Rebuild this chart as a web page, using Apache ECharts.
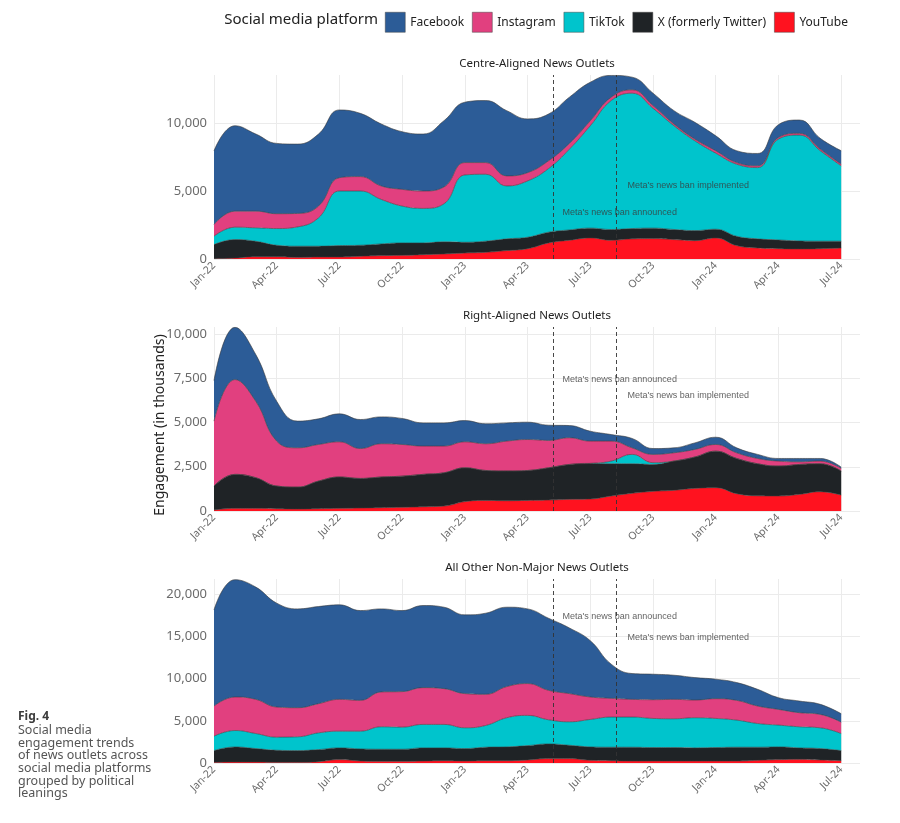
<!DOCTYPE html>
<html lang="en">
<head>
  <meta charset="UTF-8">
  <title>Social media engagement trends</title>
  <script src="https://cdn.jsdelivr.net/npm/echarts@6/dist/echarts.min.js"></script>
  <style>
    html, body { margin: 0; padding: 0; background: #fff; }
  </style>
</head>
<body>
<div id="main" style="width: 900px;height:823px;"></div>
<script type="text/javascript">

  // month labels, Jan-22 .. Jul-24 (index = month number)
  const months = ['Jan-22','Feb-22','Mar-22','Apr-22','May-22','Jun-22','Jul-22','Aug-22','Sep-22','Oct-22','Nov-22','Dec-22',
                  'Jan-23','Feb-23','Mar-23','Apr-23','May-23','Jun-23','Jul-23','Aug-23','Sep-23','Oct-23','Nov-23','Dec-23',
                  'Jan-24','Feb-24','Mar-24','Apr-24','May-24','Jun-24','Jul-24'];

  const platforms = ['Facebook', 'Instagram', 'TikTok', 'X (formerly Twitter)', 'YouTube'];
  const platformColors = ['#2c5c97', '#e1407f', '#00c4cc', '#1f2326', '#ff121f'];

  const panelTitles = ['Centre-Aligned News Outlets', 'Right-Aligned News Outlets', 'All Other Non-Major News Outlets'];

  // Centre-aligned outlets (thousands)
  const centreYouTube   = [20,70,170,170,120,150,150,200,250,270,320,370,440,490,620,760,1180,1380,1550,1380,1480,1500,1430,1350,1550,985,810,760,740,760,810];
  const centreX         = [1040,1360,1130,840,820,790,835,810,860,910,860,890,790,820,860,840,790,760,720,790,760,770,740,740,640,685,670,640,590,550,500];
  const centreTikTok    = [615,910,990,1230,1420,2090,4015,3990,3270,2710,2540,2800,4950,4920,3890,4140,4680,5940,7530,9480,9950,8810,7630,6600,5590,5300,5240,7420,7780,6650,5540];
  const centreInstagram = [865,1180,1230,1090,990,860,980,1060,990,1230,1280,1240,910,860,740,610,570,420,370,250,250,200,130,130,180,120,130,120,130,120,120];
  const centreFacebook  = [5415,6280,5670,5170,5100,5300,4980,4650,4560,4240,4190,4870,4440,4560,4800,3950,3440,3400,2830,1600,930,910,980,1230,1100,870,910,940,980,790,990];

  // Right-aligned outlets
  const rightYouTube   = [55,150,150,130,110,130,150,170,190,210,240,280,530,600,580,600,620,660,680,850,1000,1110,1170,1280,1320,980,860,850,940,1090,900];
  const rightX         = [1355,1920,1730,1280,1240,1560,1770,1670,1730,1760,1830,1880,1910,1690,1680,1690,1820,1970,2010,1820,1670,1520,1650,1770,2060,1990,1810,1690,1690,1580,1360];
  const rightTikTok    = [0,0,0,0,0,0,0,0,0,0,0,0,0,0,0,0,0,0,0,150,530,100,0,0,0,0,0,0,0,0,0];
  const rightInstagram = [3670,5360,4320,2540,2220,2070,1990,1690,1880,1790,1600,1510,1470,1510,1690,1750,1550,1510,1260,1130,370,470,470,430,380,320,300,280,150,150,150];
  const rightFacebook  = [2290,2950,2640,2250,1510,1450,1580,1640,1520,1470,1310,1310,1200,1130,1030,980,860,690,560,370,530,330,280,370,410,280,230,150,190,150,70];

  // All other non-major outlets
  const otherYouTube   = [80,120,120,80,80,160,400,240,200,200,240,280,240,280,280,360,520,520,320,280,240,240,240,240,240,240,320,400,440,360,280];
  const otherX         = [1390,1780,1590,1430,1390,1430,1390,1430,1430,1430,1550,1510,1470,1590,1630,1700,1740,1580,1590,1590,1630,1590,1590,1550,1590,1630,1550,1510,1350,1350,1190];
  const otherTikTok    = [1710,1950,1780,1550,1630,1980,1980,2100,2660,2620,2780,2780,2460,2580,3450,3580,2860,2780,3250,3570,3570,3450,3410,3570,3450,3210,2810,2580,2500,2460,2020];
  const otherInstagram = [3570,3970,4050,3570,3450,3460,3770,3650,4130,4210,4360,4240,4050,3690,3690,3770,3490,3340,2660,2220,2100,2220,2300,2100,2340,2340,2070,1860,1670,1590,1350];
  const otherFacebook  = [11390,13900,13300,12310,11710,11510,11200,10640,9840,9600,9730,9650,9330,9610,9410,8850,8540,7780,6670,4050,3060,3020,2860,2660,2310,2110,1980,1390,1380,1190,1000];

  // events: month position (fractional) of the dashed lines
  const eventNames = ["Meta's news ban announced", "Meta's news ban implemented"];
  const eventMonths = [16.22, 19.25];
  // where the annotation text sits in each panel [x month, y value]
  const annotAnnounced   = [[16.65, 3450], [16.65, 7450], [16.65, 17400]];
  const annotImplemented = [[19.76, 5440], [19.76, 6500], [19.76, 14900]];

  const yMax = [13530, 10400, 21800];
  const yStep = [5000, 2500, 5000];

  const panels = [
    [centreFacebook, centreInstagram, centreTikTok, centreX, centreYouTube],
    [rightFacebook, rightInstagram, rightTikTok, rightX, rightYouTube],
    [otherFacebook, otherInstagram, otherTikTok, otherX, otherYouTube]
  ];

  const gridTops = [75, 327, 579];
  const gridColor = '#ebebeb';
  const fontFam = 'Noto Sans';

  var myChart = echarts.init(document.getElementById('main'));

  const grids = [], xAxes = [], yAxes = [], series = [], graphics = [];

  // x ticks 0..30 step 3 plus the appended max -> last split line hidden
  const xSplitColors = [];
  for (let i = 0; i <= 10; i++) xSplitColors.push(gridColor);
  xSplitColors.push('rgba(0,0,0,0)');

  panels.forEach(function (panel, p) {
    grids.push({left: 214, right: 40, top: gridTops[p], height: 184});

    xAxes.push({
      type: 'value', gridIndex: p, min: 0, max: 30.9, interval: 3,
      axisLine: {show: false}, axisTick: {show: false},
      splitLine: {show: true, lineStyle: {color: xSplitColors, width: 1}},
      axisLabel: {
        rotate: 45, margin: 5, fontSize: 10.5, color: '#6b6b6b', fontFamily: fontFam,
        showMaxLabel: false,
        formatter: function (v) { return (v % 3 === 0 && v <= 30) ? months[v] : ''; }
      }
    });

    const nTicks = Math.floor(yMax[p] / yStep[p]) + 1;
    const ySplitColors = [];
    for (let i = 0; i < nTicks; i++) ySplitColors.push(gridColor);
    ySplitColors.push('rgba(0,0,0,0)');

    yAxes.push({
      type: 'value', gridIndex: p, min: 0, max: yMax[p], interval: yStep[p],
      axisLine: {show: false}, axisTick: {show: false},
      splitLine: {show: true, lineStyle: {color: ySplitColors, width: 1}},
      axisLabel: {
        margin: 7, fontSize: 13, color: '#6b6b6b', fontFamily: fontFam, showMaxLabel: false,
        formatter: function (v) { return v.toLocaleString('en-US'); }
      }
    });

    // stacked areas, bottom layer first; value kept in dimension 0 so it is the stacked one
    for (let k = platforms.length - 1; k >= 0; k--) {
      series.push({
        name: platforms[k],
        type: 'line',
        xAxisIndex: p, yAxisIndex: p,
        stack: 'panel' + p,
        stackStrategy: 'all',
        smooth: 0.45,
        showSymbol: false,
        symbol: 'none',
        encode: {x: 1, y: 0},
        data: panel[k].map(function (v, i) { return [v, i]; }),
        itemStyle: {color: platformColors[k]},
        lineStyle: {color: '#3b3b3b', width: 0.6},
        areaStyle: {color: platformColors[k], opacity: 1},
        emphasis: {disabled: true},
        z: 2
      });
    }

    // annotations + dashed event lines
    series.push({
      type: 'scatter',
      xAxisIndex: p, yAxisIndex: p,
      symbolSize: 1,
      itemStyle: {color: 'rgba(0,0,0,0)'},
      silent: true,
      data: [
        {name: eventNames[0], value: annotAnnounced[p]},
        {name: eventNames[1], value: annotImplemented[p]}
      ],
      label: {
        show: true, position: 'right', distance: 0,
        formatter: '{b}', fontSize: 9, color: '#3a3a3a', fontFamily: 'Liberation Sans'
      },
      markLine: {
        silent: true, symbol: 'none', animation: false,
        label: {show: false},
        lineStyle: {color: '#333', width: 0.9, type: [4, 3]},
        data: eventMonths.map(function (m) { return {xAxis: m}; })
      },
      z: 5
    });

    graphics.push({
      type: 'text', x: 537, y: gridTops[p] - 17,
      style: {text: panelTitles[p], textAlign: 'center', fill: '#222', font: '11.5px "' + fontFam + '"'}
    });
  });

  // shared y axis title
  graphics.push({
    type: 'text', x: 160, y: 425, rotation: Math.PI / 2,
    style: {text: 'Engagement (in thousands)', textAlign: 'center', textVerticalAlign: 'middle',
            fill: '#222', font: '14px "' + fontFam + '"'}
  });

  // legend title
  graphics.push({
    type: 'text', x: 378, y: 12,
    style: {text: 'Social media platform', textAlign: 'right', fill: '#222', font: '15px "' + fontFam + '"'}
  });

  // figure caption
  graphics.push({
    type: 'text', x: 18, y: 711,
    style: {text: 'Fig. 4', fill: '#3c3c3c', font: 'bold 12px "' + fontFam + '"'}
  });
  graphics.push({
    type: 'text', x: 18, y: 724,
    style: {
      text: 'Social media\nengagement trends\nof news outlets across\nsocial media platforms\ngrouped by political\nleanings',
      fill: '#555', font: '12.5px "' + fontFam + '"', lineHeight: 12.7
    }
  });

  myChart.setOption({
    backgroundColor: '#fff',
    animation: false,
    textStyle: {fontFamily: fontFam},
    legend: {
      data: platforms,
      left: 380, top: 7,
      icon: 'rect',
      itemWidth: 20, itemHeight: 20, itemGap: 8,
      selectedMode: false,
      itemStyle: {borderColor: '#444', borderWidth: 0.5},
      textStyle: {fontSize: 12, color: '#222', fontFamily: fontFam}
    },
    grid: grids,
    xAxis: xAxes,
    yAxis: yAxes,
    series: series,
    graphic: graphics
  });

</script>
</body>
</html>
